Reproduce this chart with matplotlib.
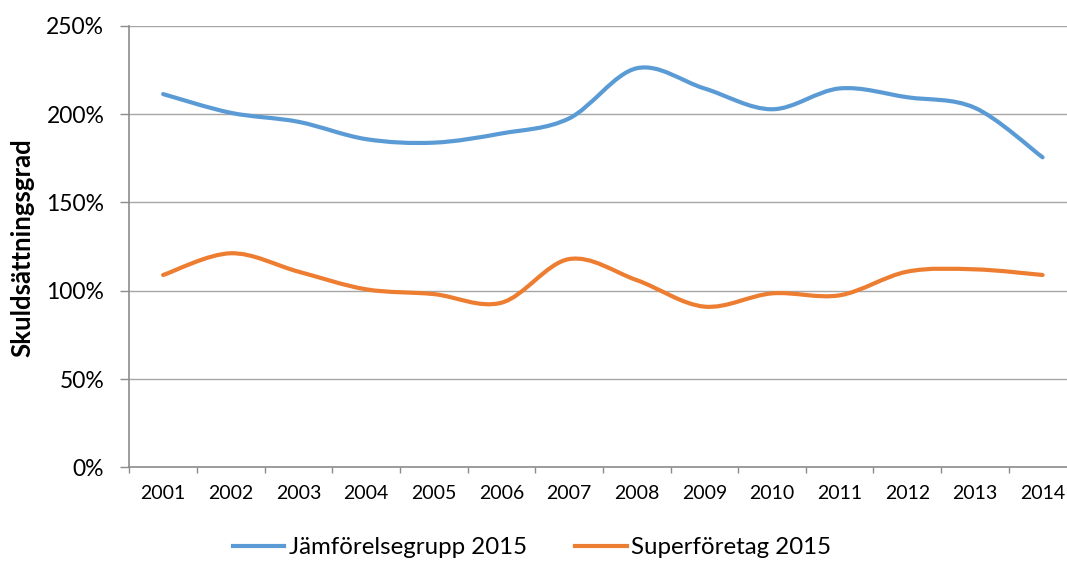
import matplotlib
matplotlib.use("Agg")
import matplotlib.pyplot as plt
import numpy as np
from matplotlib.path import Path
from matplotlib.patches import PathPatch
from matplotlib.lines import Line2D

years = ["2001", "2002", "2003", "2004", "2005", "2006", "2007",
         "2008", "2009", "2010", "2011", "2012", "2013", "2014"]
jamforelse = [211.3, 200.7, 195.6, 185.8, 183.8, 189.0, 197.5,
              225.9, 214.5, 202.7, 214.5, 209.5, 203.5, 175.5]
superforetag = [108.9, 121.2, 110.8, 100.8, 98.1, 93.2, 117.9,
                106.0, 91.0, 98.5, 97.4, 110.8, 112.1, 108.9]
series_names = ["Jämförelsegrupp 2015", "Superföretag 2015"]
colors = ["#5B9BD5", "#ED7D31"]
yticks = [0, 50, 100, 150, 200, 250]

plt.rcParams['font.family'] = ['Lato', 'DejaVu Sans']

W, H = 1067, 561
fig = plt.figure(figsize=(W / 100, H / 100), dpi=100)
left_px, right_px, top_px, bot_px = 129.3, 1076.4, 25.7, 467.4
ax = fig.add_axes([left_px / W, 1 - bot_px / H,
                   (right_px - left_px) / W, (bot_px - top_px) / H])


def smooth_path(xs, ys):
    pts = np.column_stack([xs, ys]).astype(float)
    n = len(pts)
    verts = [pts[0]]
    codes = [Path.MOVETO]
    for i in range(n - 1):
        p0 = pts[i - 1] if i > 0 else pts[i]
        p1 = pts[i]
        p2 = pts[i + 1]
        p3 = pts[i + 2] if i + 2 < n else pts[i + 1]
        c1 = p1 + (p2 - p0) / 6.0
        c2 = p2 - (p3 - p1) / 6.0
        verts += [c1, c2, p2]
        codes += [Path.CURVE4] * 3
    return Path(verts, codes)


x = np.arange(len(years))
for vals, col in zip([jamforelse, superforetag], colors):
    patch = PathPatch(smooth_path(x, vals), fill=False, edgecolor=col,
                      linewidth=3.0, capstyle='round', joinstyle='round',
                      zorder=3)
    ax.add_patch(patch)

ax.set_xlim(-0.5, len(years) - 0.5)
ax.set_ylim(0, 250)

ax.set_yticks(yticks)
ax.set_yticklabels([f"{v}%" for v in yticks])
ax.set_xticks(x)
ax.set_xticklabels(years)
ax.set_xticks(np.arange(len(years) + 1) - 0.5, minor=True)

ax.tick_params(axis='y', which='major', length=6.5, width=1.0,
               color='#8C8C8C', labelsize=16.5, pad=11.5, labelcolor='black')
ax.tick_params(axis='x', which='major', length=0, labelsize=14,
               pad=13, labelcolor='black')
ax.tick_params(axis='x', which='minor', length=4.5, width=1.0,
               color='#8C8C8C')

ax.grid(axis='y', color='#A6A6A6', linewidth=1.0, zorder=1)
ax.set_axisbelow(True)
for s in ['top', 'right']:
    ax.spines[s].set_visible(False)
for s in ['left', 'bottom']:
    ax.spines[s].set_color('#8C8C8C')
    ax.spines[s].set_linewidth(1.2)

fig.text(22 / W, 1 - 247.5 / H, "Skuldsättningsgrad", rotation=90,
         ha='center', va='center', fontsize=18.5, fontweight='bold')

handles = [Line2D([], [], color=c, linewidth=3.0) for c in colors]
fig.legend(handles, series_names, loc='center',
           bbox_to_anchor=(532 / W, 1 - 547.7 / H), ncol=2, frameon=False,
           fontsize=17.3, handlelength=2.15, handletextpad=0.2,
           columnspacing=2.0, borderpad=0, borderaxespad=0)

fig.savefig("out.png", dpi=100)
